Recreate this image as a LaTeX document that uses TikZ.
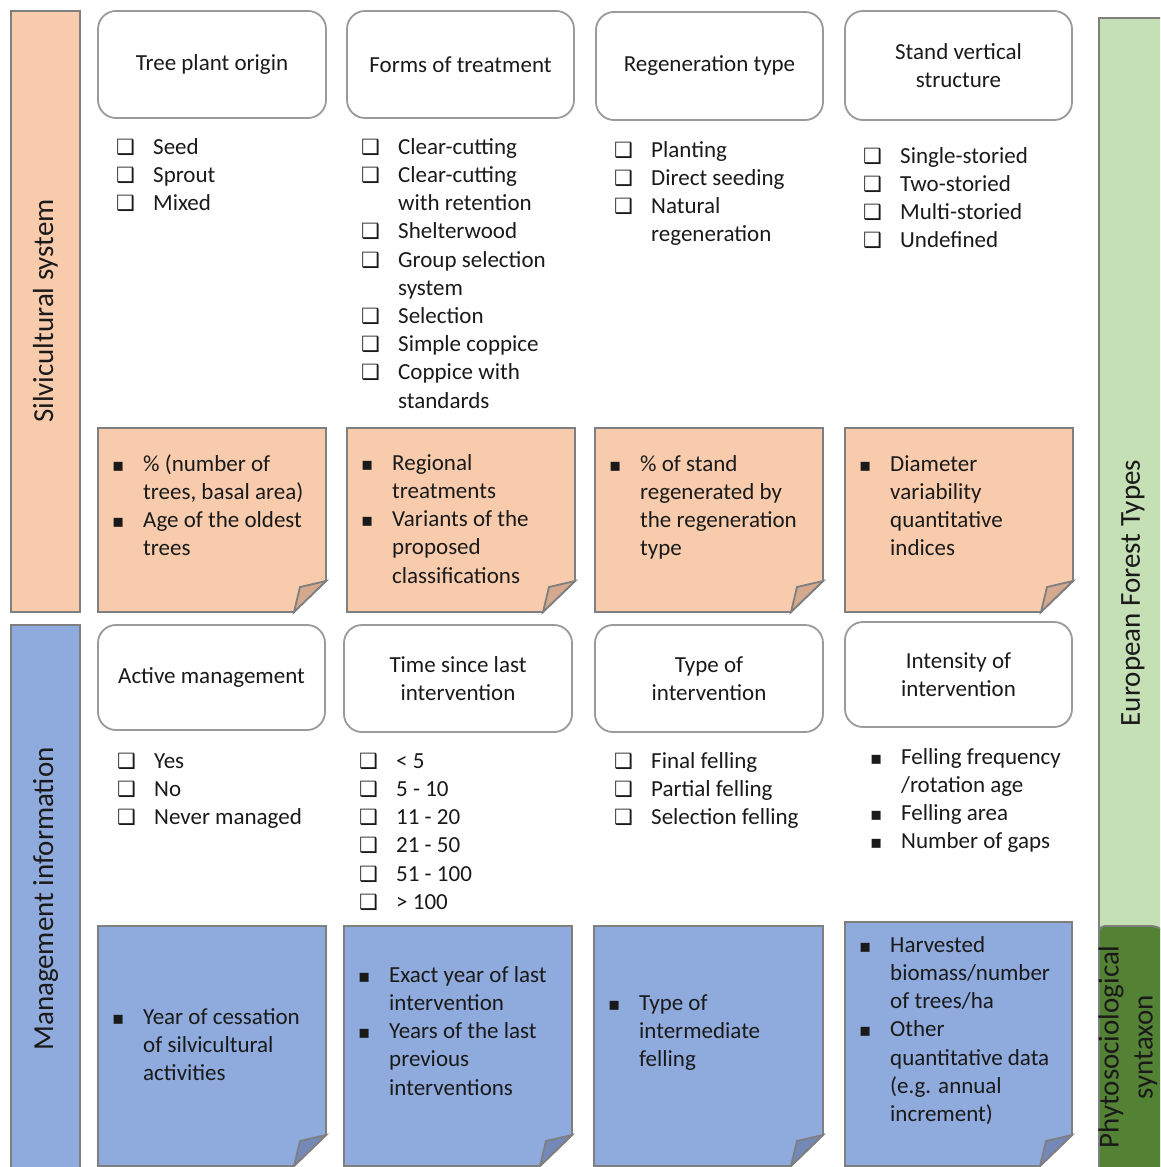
\documentclass[tikz,border=0pt]{standalone}
\usepackage{fontspec}
\setmainfont{Carlito}
\newfontfamily\dejavu{DejaVu Sans}
\definecolor{orangeF}{HTML}{F8CBAD}
\definecolor{orangeD}{HTML}{D4A98E}
\definecolor{blueF}{HTML}{8FAADC}
\definecolor{blueD}{HTML}{7489B8}
\definecolor{greenL}{HTML}{C5E0B4}
\definecolor{greenD}{HTML}{548235}
\definecolor{edgeG}{HTML}{7F7F7F}
\definecolor{hdrG}{HTML}{9A9A9A}
\definecolor{txt}{HTML}{1A1A1A}
\newcommand\Cb{\strut\llap{\makebox[37pt][l]{\dejavu\fontsize{21}{21}\selectfont ❑}}}
\newcommand\Bu{\strut\llap{\makebox[31pt][l]{\dejavu\fontsize{18}{18}\selectfont ▪}}}
\newcommand\NoteBox[6]{%
  \filldraw[notebox, fill=#5] (#1,#2) -- (#3,#2) -- (#3,#4-31) -- (#3-32,#4) -- (#1,#4) -- cycle;
  \filldraw[notebox, fill=#6] (#3-32,#4) -- (#3-26,#4-25) -- (#3,#4-31) -- cycle;}
\tikzset{
  bodyfont/.style={font=\fontsize{23}{28.2}\selectfont, text=txt},
  hdr/.style={draw=hdrG, line width=1.8pt, fill=white, rounded corners=18pt, bodyfont, align=center, inner sep=0pt},
  notebox/.style={draw=edgeG, line width=1.8pt, line join=miter},
  bar/.style={draw=edgeG, line width=1.8pt},
  listtext/.style={bodyfont, align=left, inner sep=0pt, anchor=north west},
  barlabel/.style={font=\fontsize{29}{35}\selectfont, text=txt, rotate=90, align=center, inner sep=0pt}
}
\newcommand\ListAt[4]{\node[listtext] (#1) at (#2,#3-19.74) {#4};}
\begin{document}
\begin{tikzpicture}[x=1pt,y=-1pt]
\useasboundingbox (0,0) rectangle (1160,1167);
\clip (0,0) rectangle (1160,1167);
\fill[white] (0,0) rectangle (1160,1167);
% left bars
\filldraw[bar, fill=orangeF] (11,11) rectangle (80,612);
\node[barlabel] (silv) at (45.5,311) {Silvicultural system};
\filldraw[bar, fill=blueF] (11,625) rectangle (80,1180);
\node[barlabel] (mgmt) at (45.5,899) {Management information};
% right bars
\filldraw[bar, fill=greenL] (1099,18) rectangle (1180,1180);
\node[barlabel] (eft) at (1133,593) {European Forest Types};
\filldraw[bar, fill=greenD, rounded corners=6pt] (1099,1180) -- (1099,926) -- (1158,926) -- (1166,934) -- (1166,1180);
\node[barlabel, font=\fontsize{29}{34}\selectfont] (phyto) at (1128,1047) {Phytosociological\\syntaxon};
% header row 1
\node[hdr, minimum width=228pt, minimum height=107pt] (h11) at (212,64.5) {\raisebox{-2pt}{Tree plant origin}};
\node[hdr, minimum width=227pt, minimum height=107pt] (h12) at (460.5,64.5) {Forms of treatment};
\node[hdr, minimum width=227pt, minimum height=108pt] (h13) at (709.5,66) {\raisebox{-2pt}{Regeneration type}};
\node[hdr, minimum width=227pt, minimum height=109pt] (h14) at (958.5,65.5) {Stand vertical\\structure};
% lists row 1
\ListAt{l11}{153}{154}{\Cb Seed\\ \Cb Sprout\\ \Cb Mixed}
\ListAt{l12}{398}{154}{\Cb Clear-cutting\\ \Cb Clear-cutting\\ with retention\\ \Cb Shelterwood\\ \Cb Group selection\\ system\\ \Cb Selection\\ \Cb Simple coppice\\ \Cb Coppice with\\ standards}
\ListAt{l13}{651}{157}{\Cb Planting\\ \Cb Direct seeding\\ \Cb Natural\\ regeneration}
\ListAt{l14}{900}{163}{\Cb Single-storied\\ \Cb Two-storied\\ \Cb Multi-storied\\ \Cb Undefined}
% notes row 2
\NoteBox{98}{428}{326}{612}{orangeF}{orangeD}
\NoteBox{347}{428}{575}{612}{orangeF}{orangeD}
\NoteBox{595}{428}{823}{612}{orangeF}{orangeD}
\NoteBox{845}{428}{1073}{612}{orangeF}{orangeD}
\ListAt{n21}{143}{471}{\Bu \% (number of\\ trees, basal area)\\ \Bu Age of the oldest\\ trees}
\ListAt{n22}{392}{470}{\Bu Regional\\ treatments\\ \Bu Variants of the\\ proposed\\ classifications}
\ListAt{n23}{640}{471}{\Bu \% of stand\\ regenerated by\\ the regeneration\\ type}
\ListAt{n24}{890}{471}{\Bu Diameter\\ variability\\ quantitative\\ indices}
% header row 3
\node[hdr, minimum width=227pt, minimum height=105pt] (h31) at (211.5,677.5) {\raisebox{-2pt}{Active management}};
\node[hdr, minimum width=228pt, minimum height=107pt] (h32) at (458,678.5) {Time since last\\intervention};
\node[hdr, minimum width=228pt, minimum height=107pt] (h33) at (709,678.5) {Type of\\intervention};
\node[hdr, minimum width=227pt, minimum height=105pt] (h34) at (958.5,674.5) {Intensity of\\intervention};
% lists row 3
\ListAt{l31}{154}{768}{\Cb Yes\\ \Cb No\\ \Cb Never managed}
\ListAt{l32}{396}{768}{\Cb < 5\\ \Cb 5 - 10\\ \Cb 11 - 20\\ \Cb 21 - 50\\ \Cb 51 - 100\\ \Cb > 100}
\ListAt{l33}{651}{768}{\Cb Final felling\\ \Cb Partial felling\\ \Cb Selection felling}
\ListAt{l34}{901}{764}{\Bu Felling frequency\\ /rotation age\\ \Bu Felling area\\ \Bu Number of gaps}
% notes row 4
\NoteBox{98}{926}{326}{1166}{blueF}{blueD}
\NoteBox{344}{926}{572}{1166}{blueF}{blueD}
\NoteBox{594}{926}{823}{1166}{blueF}{blueD}
\NoteBox{845}{922}{1072}{1166}{blueF}{blueD}
\ListAt{n41}{143}{1024}{\Bu Year of cessation\\ of silvicultural\\ activities}
\ListAt{n42}{389}{982}{\Bu Exact year of last\\ intervention\\ \Bu Years of the last\\ previous\\ interventions}
\ListAt{n43}{639}{1010}{\Bu Type of\\ intermediate\\ felling}
\ListAt{n44}{890}{952}{\Bu Harvested\\ biomass/number\\ of trees/ha\\ \Bu Other\\ quantitative data\\ (e.g. annual\\ increment)}
\end{tikzpicture}
\end{document}
